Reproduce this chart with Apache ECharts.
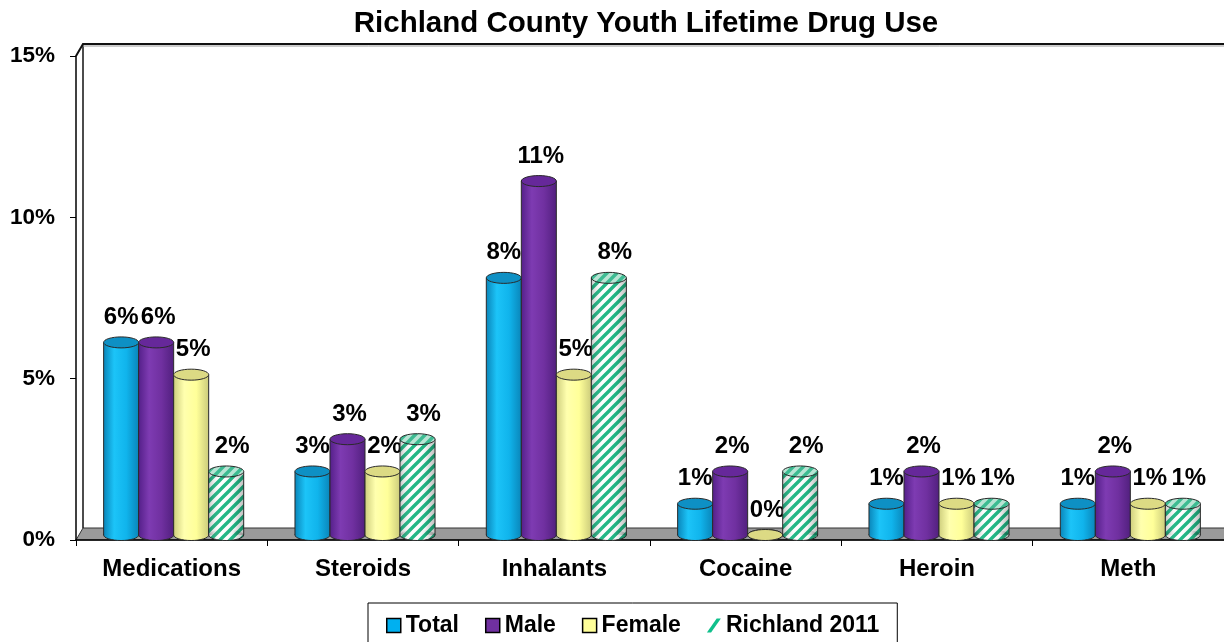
<!DOCTYPE html>
<html>
<head>
<meta charset="utf-8">
<script src="https://cdn.jsdelivr.net/npm/echarts@6/dist/echarts.min.js"></script>
<style>html,body{margin:0;padding:0;background:#fff}#c{width:1224px;height:642px}</style>
</head>
<body>
<div id="c"></div>
<script>
const categories = ['Medications', 'Steroids', 'Inhalants', 'Cocaine', 'Heroin', 'Meth'];
const seriesNames = ['Total', 'Male', 'Female', 'Richland 2011'];
const totalValues = [6, 2, 8, 1, 1, 1];
const maleValues = [6, 3, 11, 2, 2, 2];
const femaleValues = [5, 2, 5, 0, 1, 1];
const richlandValues = [2, 3, 8, 2, 1, 1];
const totalLabels = ['6%', '3%', '8%', '1%', '1%', '1%'];
const maleLabels = ['6%', '3%', '11%', '2%', '2%', '2%'];
const femaleLabels = ['5%', '2%', '5%', '0%', '1%', '1%'];
const richlandLabels = ['2%', '3%', '8%', '2%', '1%', '1%'];
const yTicks = [0, 5, 10, 15];

const FAM = '"Liberation Sans", Arial, sans-serif';
const FONT = 'bold 24px ' + FAM;

function stripeCanvas(bg, fg) {
  const s = 10;
  const cv = document.createElement('canvas');
  cv.width = s; cv.height = s;
  const ctx = cv.getContext('2d');
  ctx.fillStyle = bg; ctx.fillRect(0, 0, s, s);
  ctx.strokeStyle = fg; ctx.lineWidth = 3.4;
  ctx.beginPath();
  ctx.moveTo(-2, s + 2); ctx.lineTo(s + 2, -2);
  ctx.moveTo(-3, 3); ctx.lineTo(3, -3);
  ctx.moveTo(s - 3, s + 3); ctx.lineTo(s + 3, s - 3);
  ctx.stroke();
  return cv;
}
const bodyPattern = { image: stripeCanvas('#ffffff', '#22B886'), repeat: 'repeat' };
const topPattern = { image: stripeCanvas('#B9E4D4', '#3DBB92'), repeat: 'repeat' };

function hGrad(stops) {
  return { type: 'linear', x: 0, y: 0, x2: 1, y2: 0, colorStops: stops.map(s => ({ offset: s[0], color: s[1] })) };
}

const styles = [
  { body: hGrad([[0, '#0A86BA'], [0.3, '#1CC4F8'], [0.65, '#10B4EC'], [1, '#0A86BA']]), top: '#0E90C4', loff: 0 },
  { body: hGrad([[0, '#55208A'], [0.3, '#7E3BB2'], [0.65, '#7030A0'], [1, '#52207F']]), top: '#66289A', loff: 2 },
  { body: hGrad([[0, '#CFCF7E'], [0.3, '#FFFFAE'], [0.65, '#FFFF99'], [1, '#CCCC7C']]), top: '#DCDA84', loff: 2 },
  { body: bodyPattern, shade: hGrad([[0, 'rgba(0,0,0,0.22)'], [0.35, 'rgba(255,255,255,0)'], [0.7, 'rgba(0,0,0,0.03)'], [1, 'rgba(0,0,0,0.25)']]), top: topPattern, loff: 6 }
];
const allValues = [totalValues, maleValues, femaleValues, richlandValues];
const allLabels = [totalLabels, maleLabels, femaleLabels, richlandLabels];

function makeRender(s) {
  return function (params, api) {
    const ci = api.value(0), v = api.value(1);
    const p = api.coord([ci, v]);
    const b = api.coord([ci, 0]);
    const catW = api.size([1, 0])[0];
    const bw = catW * 0.183;
    const rx = bw / 2, ry = 5.5;
    const cx = p[0] + 2 + (s - 1.5) * bw;
    const by = b[1] - 5;
    let ty = p[1] - 4;
    if (ty > by) ty = by;
    const st = styles[s];
    const children = [
      { type: 'ellipse', shape: { cx: cx, cy: by, rx: rx, ry: ry }, style: { fill: st.body, stroke: '#2a2a2a', lineWidth: 1 } },
      { type: 'rect', shape: { x: cx - rx, y: ty, width: bw, height: by - ty }, style: { fill: st.body } }
    ];
    if (st.shade) {
      children.push({ type: 'ellipse', shape: { cx: cx, cy: by, rx: rx, ry: ry }, style: { fill: st.shade } });
      children.push({ type: 'rect', shape: { x: cx - rx, y: ty, width: bw, height: by - ty }, style: { fill: st.shade } });
    }
    children.push({ type: 'line', shape: { x1: cx - rx, y1: ty, x2: cx - rx, y2: by }, style: { stroke: '#2a2a2a', lineWidth: 1 } });
    children.push({ type: 'line', shape: { x1: cx + rx, y1: ty, x2: cx + rx, y2: by }, style: { stroke: '#2a2a2a', lineWidth: 1 } });
    children.push({ type: 'ellipse', shape: { cx: cx, cy: ty, rx: rx, ry: ry }, style: { fill: st.top, stroke: '#2a2a2a', lineWidth: 1 } });
    children.push({ type: 'text', x: cx + st.loff, y: ty - 25, style: { text: allLabels[s][params.dataIndex], font: FONT, fill: '#000', align: 'center', verticalAlign: 'middle' } });
    return { type: 'group', children: children };
  };
}

const GL = 76, GT = 56, GW = 1149, GH = 484, DX = 7, DY = 12;

const chart = echarts.init(document.getElementById('c'));
chart.setOption({
  backgroundColor: '#fff',
  animation: false,
  title: {
    text: 'Richland County Youth Lifetime Drug Use',
    left: 646, top: 9, padding: 0, textAlign: 'center',
    textStyle: { fontFamily: FAM, fontWeight: 'bold', fontSize: 29.5, color: '#000' }
  },
  legend: {
    left: 368, top: 603, orient: 'horizontal',
    padding: [11, 18, 24, 18], itemGap: 26, itemWidth: 14, itemHeight: 14,
    borderColor: '#000', borderWidth: 1, backgroundColor: '#fff',
    textStyle: { fontFamily: FAM, fontWeight: 'bold', fontSize: 23, color: '#000' },
    data: [
      { name: 'Total', icon: 'rect', itemStyle: { color: '#00B0F0', borderColor: '#000', borderWidth: 1.5 } },
      { name: 'Male', icon: 'rect', itemStyle: { color: '#7030A0', borderColor: '#000', borderWidth: 1.5 } },
      { name: 'Female', icon: 'rect', itemStyle: { color: '#FFFF99', borderColor: '#000', borderWidth: 1.5 } },
      { name: 'Richland 2011', icon: 'path://M0,10 L3,10 L10,0 L7,0 Z', itemStyle: { color: '#10C08C', borderWidth: 0 } }
    ]
  },
  grid: { left: GL, top: GT, width: GW, height: GH, containLabel: false },
  xAxis: {
    type: 'category', data: categories,
    axisLine: { show: true, lineStyle: { color: '#000', width: 1.5 } },
    axisTick: { show: true, length: 6, lineStyle: { color: '#000', width: 1 } },
    axisLabel: { interval: 0, margin: 17, color: '#000', fontFamily: FAM, fontWeight: 'bold', fontSize: 24 },
    splitLine: { show: false }
  },
  yAxis: {
    type: 'value', min: 0, max: 15, interval: 5,
    axisLine: { show: true, lineStyle: { color: '#000', width: 1.5 } },
    axisTick: { show: true, length: 6, lineStyle: { color: '#000', width: 1 } },
    axisLabel: { margin: 21, color: '#000', fontFamily: FAM, fontWeight: 'bold', fontSize: 22.5,
      formatter: v => (yTicks.indexOf(v) >= 0 ? v + '%' : '') },
    splitLine: { show: false }
  },
  graphic: [
    { type: 'polygon', z: -10, shape: { points: [[GL, GT + GH], [GL + DX, GT + GH - DY], [1260, GT + GH - DY], [1260, GT + GH]] }, style: { fill: '#9A9A9A', stroke: '#333', lineWidth: 1 } },
    { type: 'polyline', z: -9, shape: { points: [[GL, GT], [GL + DX, GT - DY], [1260, GT - DY]] }, style: { fill: null, stroke: '#111', lineWidth: 2 } },
    { type: 'line', z: -9, shape: { x1: GL + DX, y1: GT - DY, x2: GL + DX, y2: GT + GH - DY }, style: { stroke: '#111', lineWidth: 1.5 } },
    { type: 'line', z: -9, shape: { x1: GL + DX, y1: GT - DY + 2, x2: 1260, y2: GT - DY + 2 }, style: { stroke: '#999', lineWidth: 1 } }
  ],
  series: seriesNames.map((name, s) => ({
    type: 'custom', name: name,
    itemStyle: { color: ['#00B0F0', '#7030A0', '#FFFF99', '#10C08C'][s] },
    renderItem: makeRender(s),
    encode: { x: 0, y: 1 },
    data: allValues[s].map((v, i) => [i, v])
  }))
});
</script>
</body>
</html>
